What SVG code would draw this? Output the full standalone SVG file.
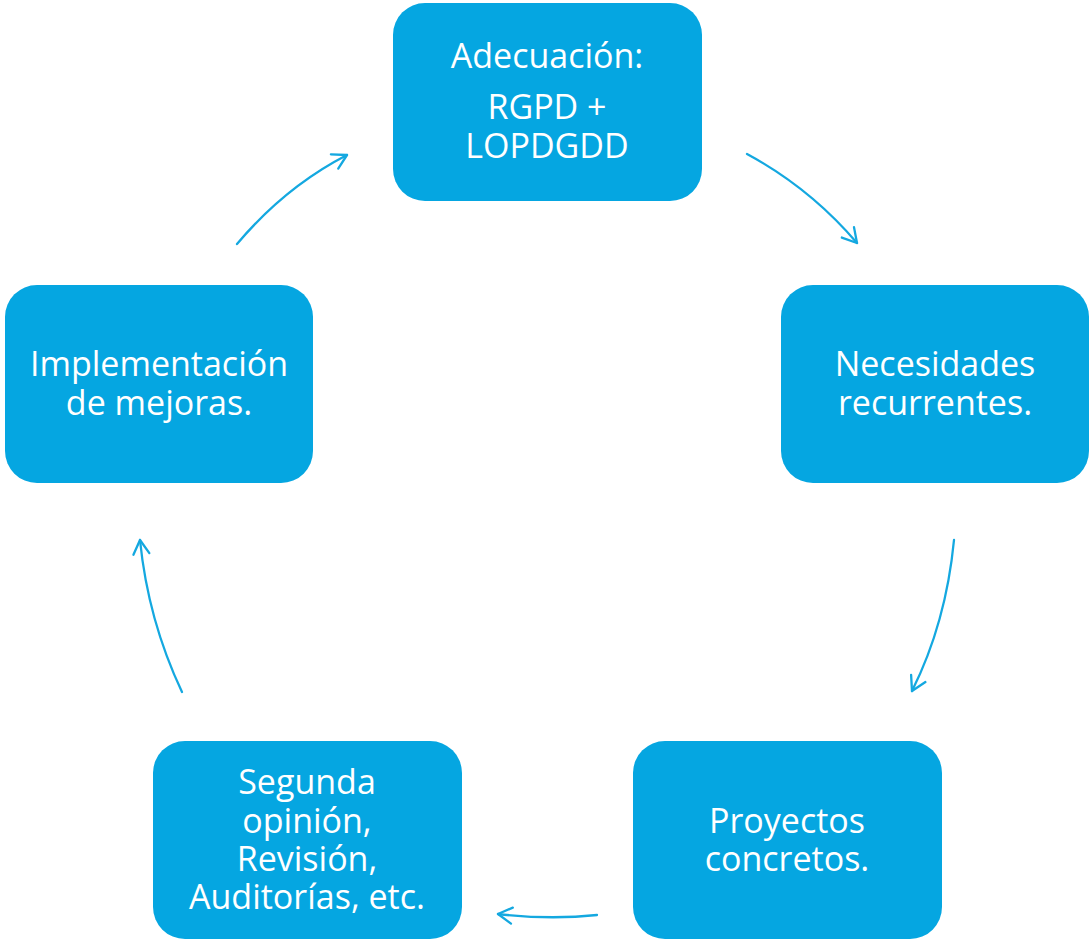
<svg xmlns="http://www.w3.org/2000/svg" width="1090" height="941" viewBox="0 0 1090 941">
<defs>
<style>
.box{fill:#05A6E1;}
.t{font-family:"Open Sans","DejaVu Sans",sans-serif;font-size:34px;fill:#ffffff;text-anchor:middle;}
.c{fill:none;stroke:#14A8E0;stroke-width:2.3;stroke-linecap:round;}
</style>
<marker id="ah" viewBox="0 0 20 20" refX="17" refY="10" markerWidth="20" markerHeight="20" markerUnits="userSpaceOnUse" orient="auto">
<path d="M3,2 L17,10 L3,18" fill="none" stroke="#14A8E0" stroke-width="2.3" stroke-linecap="round" stroke-linejoin="round"/>
</marker>
</defs>
<rect width="1090" height="941" fill="#ffffff"/>
<g id="n1"><rect class="box" x="393" y="3" width="309" height="198" rx="32"/>
<text class="t" x="547" y="68">Adecuación:</text>
<text class="t" x="547" y="119">RGPD +</text>
<text class="t" x="547" y="158">LOPDGDD</text></g>
<g id="n2"><rect class="box" x="781" y="285" width="308" height="198" rx="32"/>
<text class="t" x="935" y="376">Necesidades</text>
<text class="t" x="935" y="415">recurrentes.</text></g>
<g id="n3"><rect class="box" x="633" y="741" width="309" height="198" rx="32"/>
<text class="t" x="787" y="833">Proyectos</text>
<text class="t" x="787" y="871">concretos.</text></g>
<g id="n4"><rect class="box" x="153" y="741" width="309" height="198" rx="32"/>
<text class="t" x="307" y="794">Segunda</text>
<text class="t" x="307" y="833">opinión,</text>
<text class="t" x="307" y="871">Revisión,</text>
<text class="t" x="307" y="909">Auditorías, etc.</text></g>
<g id="n5"><rect class="box" x="5" y="285" width="308" height="198" rx="32"/>
<text class="t" x="159" y="376">Implementación</text>
<text class="t" x="159" y="415">de mejoras.</text></g>
<g id="connectors">
<path class="c" marker-end="url(#ah)" d="M237,244 Q285,187 347,155"/>
<path class="c" marker-end="url(#ah)" d="M747,154 Q810,188 857,243"/>
<path class="c" marker-end="url(#ah)" d="M954,540 Q946,623 912,691"/>
<path class="c" marker-end="url(#ah)" d="M597,915 Q550,920 498,914"/>
<path class="c" marker-end="url(#ah)" d="M182,692 Q148,620 140,540"/>
</g>
</svg>
